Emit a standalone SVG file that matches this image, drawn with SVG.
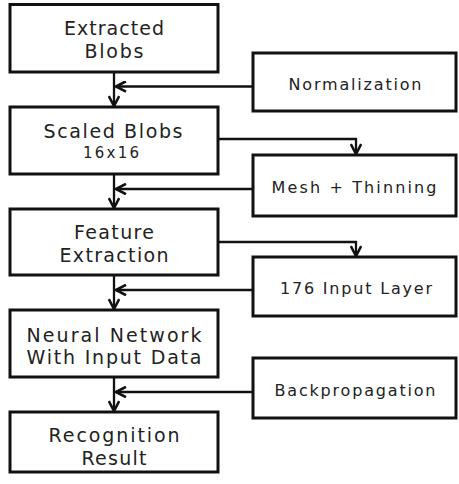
<svg xmlns="http://www.w3.org/2000/svg" width="459" height="484" viewBox="0 0 459 484">
  <style>
    .box { fill: #ffffff; stroke: #111111; stroke-width: 3; }
    .line { fill: none; stroke: #111111; stroke-width: 2.3; }
    .big { font-family: "DejaVu Sans", "Noto Sans CJK KR", sans-serif; font-size: 19px; fill: #222222; text-anchor: middle; }
    .small { font-family: "DejaVu Sans", "Noto Sans CJK KR", sans-serif; font-size: 16px; fill: #222222; text-anchor: middle; }
    .tiny { font-family: "DejaVu Sans", "Noto Sans CJK KR", sans-serif; font-size: 15px; fill: #222222; text-anchor: middle; }
  </style>
  <defs>
    <!-- open chevron arrowhead -->
    <marker id="chev" viewBox="0 0 12 12" refX="11" refY="6" markerWidth="12" markerHeight="12" markerUnits="userSpaceOnUse" orient="auto">
      <path d="M1,0.8 L11,6 L1,11.2" fill="none" stroke="#111111" stroke-width="2.6"/>
    </marker>
  </defs>
  <rect width="459" height="484" fill="#ffffff"/>

  <g id="connectors">
    <!-- main vertical flow -->
    <path class="line" d="M114,72 V106" marker-end="url(#chev)"/>
    <path class="line" d="M114,174 V208" marker-end="url(#chev)"/>
    <path class="line" d="M114,275 V309" marker-end="url(#chev)"/>
    <path class="line" d="M114,377 V411" marker-end="url(#chev)"/>
    <!-- side inputs into the main flow -->
    <path class="line" d="M253,86.5 H116" marker-end="url(#chev)"/>
    <path class="line" d="M253,189 H116" marker-end="url(#chev)"/>
    <path class="line" d="M253,290 H116" marker-end="url(#chev)"/>
    <path class="line" d="M253,392 H116" marker-end="url(#chev)"/>
    <!-- outputs to side steps -->
    <path class="line" d="M218,139 H356 V154" marker-end="url(#chev)"/>
    <path class="line" d="M218,242 H356 V256" marker-end="url(#chev)"/>
  </g>

  <g id="extracted-blobs">
    <rect class="box" x="10" y="4.5" width="208" height="67.5"/>
    <text class="big" x="114" y="35" textLength="100" lengthAdjust="spacing">Extracted</text>
    <text class="big" x="114" y="58" textLength="59" lengthAdjust="spacing">Blobs</text>
  </g>

  <g id="normalization">
    <rect class="box" x="253" y="53" width="203" height="58"/>
    <text class="small" x="355" y="90" textLength="133" lengthAdjust="spacing">Normalization</text>
  </g>

  <g id="scaled-blobs">
    <rect class="box" x="10" y="107" width="208" height="67"/>
    <text class="big" x="113" y="138" textLength="139" lengthAdjust="spacing">Scaled Blobs</text>
    <text class="tiny" x="111" y="158" textLength="56" lengthAdjust="spacing">16x16</text>
  </g>

  <g id="mesh-thinning">
    <rect class="box" x="253" y="155" width="203" height="61"/>
    <text class="small" x="354" y="193" textLength="165" lengthAdjust="spacing">Mesh + Thinning</text>
  </g>

  <g id="feature-extraction">
    <rect class="box" x="10" y="209" width="208" height="66"/>
    <text class="big" x="114" y="239" textLength="80" lengthAdjust="spacing">Feature</text>
    <text class="big" x="114" y="262" textLength="109" lengthAdjust="spacing">Extraction</text>
  </g>

  <g id="input-layer">
    <rect class="box" x="253" y="257" width="203" height="59"/>
    <text class="small" x="356" y="294" textLength="152" lengthAdjust="spacing">176 Input Layer</text>
  </g>

  <g id="neural-network">
    <rect class="box" x="10" y="310" width="208" height="67"/>
    <text class="big" x="114" y="342" textLength="175" lengthAdjust="spacing">Neural Network</text>
    <text class="big" x="114" y="364" textLength="175" lengthAdjust="spacing">With Input Data</text>
  </g>

  <g id="backpropagation">
    <rect class="box" x="253" y="358" width="203" height="60"/>
    <text class="small" x="355" y="396" textLength="161" lengthAdjust="spacing">Backpropagation</text>
  </g>

  <g id="recognition-result">
    <rect class="box" x="10" y="412" width="208" height="60"/>
    <text class="big" x="114" y="442" textLength="131" lengthAdjust="spacing">Recognition</text>
    <text class="big" x="114" y="465" textLength="65" lengthAdjust="spacing">Result</text>
  </g>
</svg>
